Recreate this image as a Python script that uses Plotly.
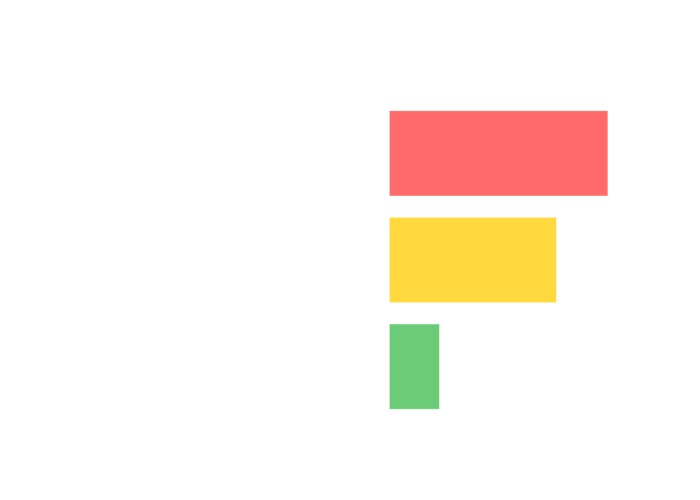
import plotly.graph_objects as go

categories = ["High", "Medium", "Low"]
values = [85, 65, 19.5]
colors = ["#FF6B6B", "#FFD93D", "#6BCB77"]

fig = go.Figure(
    go.Bar(
        x=values,
        y=categories,
        orientation="h",
        marker=dict(color=colors, line=dict(color="white", width=0.5)),
    )
)
fig.update_layout(
    template="plotly_white",
    width=700,
    height=500,
    showlegend=False,
    xaxis=dict(visible=False, range=[-120.3, 89.7]),
    yaxis=dict(visible=False, autorange="reversed", categoryorder="array", categoryarray=categories),
)
fig.write_html("out.html")
